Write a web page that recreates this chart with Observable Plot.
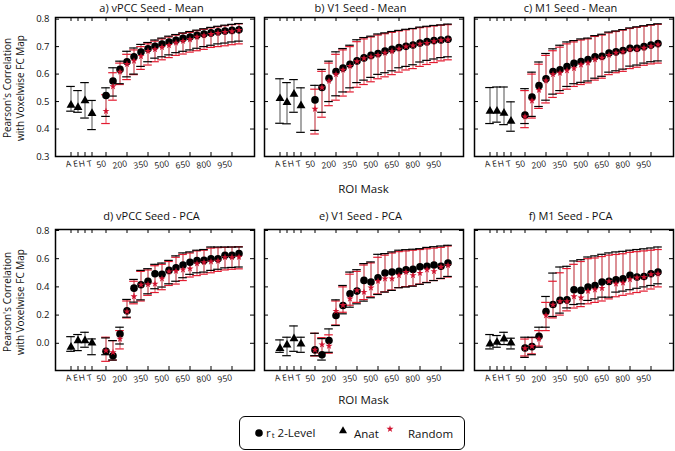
<!DOCTYPE html>
<html>
<head>
<meta charset="utf-8">
<script src="https://cdn.jsdelivr.net/npm/d3@7"></script>
<script src="https://cdn.jsdelivr.net/npm/@observablehq/plot@0.6"></script>
<style>
  html, body { margin: 0; padding: 0; background: #fff; }
  #root { position: relative; width: 675px; height: 451px; overflow: hidden; font-family: "Open Sans", sans-serif; color: #111; }
  .abs { position: absolute; }
  .title { font-size: 11px; white-space: nowrap; transform: translateX(-50%); line-height: 13px; }
  .ylab { font-size: 10px; line-height: 13px; white-space: nowrap; text-align: center; transform: translate(-50%, -50%) rotate(-90deg); }
  .xlab { font-size: 11.5px; white-space: nowrap; transform: translate(-50%, -50%); }
  .legend { border: 1.5px solid #000; border-radius: 6px; box-sizing: border-box; }
  .leg-t { font-size: 11.5px; white-space: nowrap; line-height: 14px; }
</style>
</head>
<body>
<div id="root"></div>
<script>
// ---------------- data ----------------
const anatCats = ["A", "E", "H", "T"];
const sizes = ["50","100","150","200","250","300","350","400","450","500","550","600","650","700","750","800","850","900","950","1000"];
const xTickLabels = ["A", "E", "H", "T", "50", "200", "350", "500", "650", "800", "950"];
const yTicksMean = [0.3, 0.4, 0.5, 0.6, 0.7, 0.8];
const yTicksPCA = [0.0, 0.2, 0.4, 0.6, 0.8];
const titles = ["a) vPCC Seed - Mean", "b) V1 Seed - Mean", "c) M1 Seed - Mean", "d) vPCC Seed - PCA", "e) V1 Seed - PCA", "f) M1 Seed - PCA"];

// a) vPCC Mean
const aAnat = [0.487, 0.479, 0.503, 0.457];
const aAnatLo = [0.465, 0.461, 0.440, 0.398];
const aAnatHi = [0.555, 0.540, 0.569, 0.504];
const aLev = [0.522,0.575,0.617,0.645,0.663,0.680,0.692,0.701,0.709,0.717,0.723,0.730,0.735,0.741,0.746,0.750,0.754,0.757,0.759,0.761];
const aLevHi = [0.550,0.623,0.647,0.683,0.695,0.708,0.715,0.724,0.731,0.738,0.744,0.750,0.755,0.760,0.765,0.770,0.774,0.778,0.781,0.784];
const aLevLo = [0.446,0.520,0.565,0.590,0.600,0.628,0.645,0.658,0.663,0.670,0.678,0.683,0.688,0.694,0.700,0.705,0.710,0.713,0.717,0.720];
const aRnd = [0.465,0.555,0.608,0.636,0.648,0.665,0.684,0.690,0.698,0.705,0.714,0.720,0.726,0.735,0.740,0.745,0.749,0.753,0.755,0.760];
const aRndHi = [0.525,0.605,0.640,0.672,0.688,0.700,0.710,0.720,0.728,0.735,0.742,0.748,0.752,0.758,0.763,0.768,0.772,0.776,0.780,0.783];
const aRndLo = [0.420,0.505,0.562,0.580,0.598,0.617,0.633,0.645,0.652,0.660,0.668,0.673,0.680,0.685,0.690,0.697,0.700,0.703,0.707,0.710];

// b) V1 Mean
const bAnat = [0.511, 0.497, 0.527, 0.485];
const bAnatLo = [0.421, 0.419, 0.461, 0.388];
const bAnatHi = [0.583, 0.569, 0.580, 0.550];
const bLev = [0.506,0.551,0.585,0.609,0.622,0.636,0.648,0.659,0.668,0.675,0.684,0.690,0.697,0.701,0.706,0.713,0.718,0.722,0.724,0.727];
const bLevHi = [0.559,0.617,0.647,0.681,0.693,0.705,0.725,0.733,0.738,0.746,0.750,0.755,0.759,0.763,0.766,0.771,0.774,0.777,0.779,0.782];
const bLevLo = [0.395,0.461,0.500,0.521,0.535,0.550,0.569,0.578,0.588,0.599,0.605,0.612,0.623,0.628,0.634,0.644,0.650,0.655,0.660,0.663];
const bRnd = [0.473,0.551,0.575,0.599,0.615,0.629,0.646,0.657,0.663,0.669,0.677,0.683,0.692,0.700,0.704,0.710,0.713,0.719,0.723,0.725];
const bRndHi = [0.545,0.610,0.640,0.672,0.688,0.700,0.718,0.728,0.735,0.742,0.747,0.752,0.757,0.761,0.765,0.769,0.772,0.775,0.778,0.780];
const bRndLo = [0.382,0.443,0.485,0.505,0.520,0.535,0.552,0.562,0.572,0.583,0.590,0.598,0.607,0.615,0.620,0.628,0.635,0.642,0.648,0.652];

// c) M1 Mean
const cAnat = [0.465, 0.465, 0.458, 0.429];
const cAnatLo = [0.420, 0.425, 0.416, 0.392];
const cAnatHi = [0.551, 0.553, 0.553, 0.499];
const cLev = [0.451,0.516,0.558,0.583,0.609,0.616,0.627,0.639,0.646,0.653,0.663,0.665,0.677,0.681,0.686,0.694,0.694,0.700,0.706,0.711];
const cLevHi = [0.547,0.607,0.644,0.675,0.692,0.705,0.717,0.722,0.728,0.731,0.740,0.745,0.753,0.757,0.762,0.768,0.772,0.776,0.780,0.783];
const cLevLo = [0.420,0.446,0.482,0.505,0.527,0.540,0.555,0.565,0.570,0.575,0.585,0.592,0.607,0.612,0.618,0.629,0.633,0.640,0.645,0.648];
const cRnd = [0.445,0.503,0.542,0.576,0.599,0.604,0.613,0.621,0.634,0.641,0.653,0.659,0.669,0.677,0.681,0.689,0.689,0.695,0.701,0.707];
const cRndHi = [0.540,0.600,0.636,0.668,0.685,0.698,0.710,0.717,0.724,0.728,0.737,0.742,0.750,0.755,0.760,0.766,0.770,0.774,0.778,0.781];
const cRndLo = [0.405,0.440,0.475,0.495,0.515,0.530,0.545,0.555,0.562,0.568,0.578,0.585,0.598,0.605,0.610,0.620,0.625,0.632,0.637,0.640];

// d) vPCC PCA
const dAnat = [-0.028, 0.019, 0.019, 0.002];
const dAnatLo = [-0.057, -0.052, -0.028, -0.081];
const dAnatHi = [0.047, 0.062, 0.078, 0.031];
const dLev = [-0.057,-0.088,0.066,0.230,0.391,0.415,0.439,0.493,0.489,0.517,0.536,0.555,0.574,0.586,0.588,0.600,0.600,0.624,0.624,0.636];
const dLevHi = [0.038,0.019,0.114,0.311,0.453,0.517,0.529,0.560,0.569,0.588,0.620,0.641,0.648,0.660,0.665,0.683,0.683,0.683,0.683,0.683];
const dLevLo = [-0.081,-0.119,-0.005,0.185,0.292,0.308,0.351,0.387,0.399,0.422,0.440,0.465,0.489,0.500,0.505,0.517,0.525,0.535,0.538,0.541];
const dRnd = [-0.052,-0.064,0.031,0.225,0.332,0.415,0.418,0.422,0.458,0.508,0.512,0.522,0.529,0.565,0.574,0.579,0.584,0.610,0.610,0.612];
const dRndHi = [0.043,0.019,0.090,0.300,0.440,0.510,0.520,0.550,0.560,0.580,0.610,0.630,0.640,0.655,0.660,0.675,0.678,0.680,0.682,0.685];
const dRndLo = [-0.128,-0.119,-0.040,0.180,0.280,0.300,0.340,0.360,0.380,0.410,0.420,0.445,0.470,0.480,0.490,0.500,0.510,0.520,0.525,0.528];

// e) V1 PCA
const eAnat = [-0.036, -0.012, 0.033, -0.005];
const eAnatLo = [-0.064, -0.088, -0.057, -0.064];
const eAnatHi = [0.024, 0.043, 0.123, 0.043];
const eLev = [-0.047,-0.081,0.019,0.197,0.268,0.351,0.370,0.446,0.434,0.465,0.498,0.505,0.510,0.522,0.524,0.543,0.546,0.555,0.546,0.569];
const eLevHi = [0.071,0.033,0.102,0.308,0.410,0.505,0.522,0.565,0.577,0.631,0.636,0.648,0.660,0.664,0.667,0.671,0.680,0.685,0.690,0.695];
const eLevLo = [-0.088,-0.119,-0.064,0.126,0.209,0.256,0.280,0.299,0.323,0.346,0.363,0.375,0.394,0.399,0.405,0.418,0.430,0.445,0.460,0.474];
const eRnd = [-0.047,-0.009,-0.019,0.228,0.270,0.316,0.375,0.363,0.394,0.441,0.458,0.458,0.482,0.505,0.482,0.498,0.522,0.510,0.541,0.553];
const eRndHi = [0.071,0.040,0.060,0.300,0.400,0.490,0.510,0.555,0.570,0.610,0.625,0.640,0.650,0.655,0.660,0.665,0.670,0.675,0.680,0.690];
const eRndLo = [-0.090,-0.070,-0.070,0.130,0.220,0.270,0.290,0.310,0.330,0.350,0.365,0.378,0.395,0.402,0.408,0.420,0.432,0.445,0.458,0.470];

// f) M1 PCA
const fAnat = [-0.005, 0.007, 0.031, 0.002];
const fAnatLo = [-0.040, -0.028, -0.009, -0.040];
const fAnatHi = [0.062, 0.055, 0.078, 0.036];
const fLev = [-0.033,-0.024,0.050,0.225,0.275,0.304,0.308,0.380,0.375,0.399,0.410,0.434,0.439,0.451,0.458,0.482,0.470,0.474,0.493,0.505];
const fLevHi = [0.043,0.043,0.114,0.332,0.498,0.541,0.546,0.584,0.593,0.612,0.620,0.631,0.641,0.648,0.652,0.660,0.665,0.670,0.676,0.683];
const fLevLo = [-0.100,-0.081,-0.028,0.114,0.190,0.214,0.251,0.275,0.280,0.304,0.315,0.327,0.327,0.363,0.370,0.380,0.390,0.400,0.410,0.422];
const fRnd = [-0.036,-0.021,0.031,0.197,0.273,0.297,0.297,0.332,0.323,0.370,0.380,0.391,0.439,0.422,0.429,0.453,0.465,0.470,0.489,0.493];
const fRndHi = [0.030,0.040,0.090,0.290,0.440,0.500,0.530,0.560,0.580,0.600,0.605,0.615,0.625,0.630,0.635,0.645,0.650,0.655,0.660,0.665];
const fRndLo = [-0.090,-0.075,-0.020,0.090,0.180,0.200,0.230,0.250,0.260,0.280,0.290,0.300,0.315,0.330,0.340,0.350,0.360,0.370,0.385,0.400];

// ---------------- layout / style ----------------
const BLACK = "#000";
const GREY = "#8a8a8a";
const RED = "#d0122f";
const RED_CAP = "#e31b30";
const PINK = "#ee8890";

const xDomain = [...anatCats, " ", ...sizes];
const FW = 199;
const ML = 30, MR = 3, MT = 4, MB = 30;

const panels = [
  {anat: aAnat, anatLo: aAnatLo, anatHi: aAnatHi, lev: aLev, levLo: aLevLo, levHi: aLevHi, rnd: aRnd, rndLo: aRndLo, rndHi: aRndHi},
  {anat: bAnat, anatLo: bAnatLo, anatHi: bAnatHi, lev: bLev, levLo: bLevLo, levHi: bLevHi, rnd: bRnd, rndLo: bRndLo, rndHi: bRndHi},
  {anat: cAnat, anatLo: cAnatLo, anatHi: cAnatHi, lev: cLev, levLo: cLevLo, levHi: cLevHi, rnd: cRnd, rndLo: cRndLo, rndHi: cRndHi},
  {anat: dAnat, anatLo: dAnatLo, anatHi: dAnatHi, lev: dLev, levLo: dLevLo, levHi: dLevHi, rnd: dRnd, rndLo: dRndLo, rndHi: dRndHi},
  {anat: eAnat, anatLo: eAnatLo, anatHi: eAnatHi, lev: eLev, levLo: eLevLo, levHi: eLevHi, rnd: eRnd, rndLo: eRndLo, rndHi: eRndHi},
  {anat: fAnat, anatLo: fAnatLo, anatHi: fAnatHi, lev: fLev, levLo: fLevLo, levHi: fLevHi, rnd: fRnd, rndLo: fRndLo, rndHi: fRndHi}
];
const frameLefts = [55, 264, 474];
const rows = [
  {top: 17, h: 139, domain: [0.3, 0.806], ticks: yTicksMean, titleTop: 1, roiY: 188, ylabY: 88},
  {top: 229, h: 141, domain: [-0.193, 0.807], ticks: yTicksPCA, titleTop: 209, roiY: 399, ylabY: 302}
];

const root = document.getElementById("root");

function makePanel(p, row, col) {
  const H = row.h;
  const anatRows = anatCats.map((c, i) => ({x: c, y: p.anat[i], lo: p.anatLo[i], hi: p.anatHi[i]}));
  const levRows = sizes.map((c, i) => ({x: c, y: p.lev[i], lo: p.levLo[i], hi: p.levHi[i]}));
  const rndRows = sizes.map((c, i) => ({x: c, y: p.rnd[i], lo: p.rndLo[i], hi: p.rndHi[i]}));
  const capOpt = {insetLeft: -0.8, insetRight: -0.8, strokeWidth: 1.2};
  const marks = [
    Plot.ruleX(anatRows, {x: "x", y1: "lo", y2: "hi", stroke: GREY, strokeWidth: 1.5}),
    Plot.ruleX(levRows, {x: "x", y1: "lo", y2: "hi", stroke: GREY, strokeWidth: 1.5}),
    Plot.ruleX(rndRows, {x: "x", y1: "lo", y2: "hi", stroke: PINK, strokeWidth: 1.5}),
    Plot.tickY(rndRows, {x: "x", y: "lo", stroke: RED_CAP, ...capOpt}),
    Plot.tickY(rndRows, {x: "x", y: "hi", stroke: RED_CAP, ...capOpt}),
    Plot.tickY(levRows, {x: "x", y: "lo", stroke: BLACK, ...capOpt}),
    Plot.tickY(levRows, {x: "x", y: "hi", stroke: BLACK, ...capOpt}),
    Plot.tickY(anatRows, {x: "x", y: "lo", stroke: BLACK, ...capOpt}),
    Plot.tickY(anatRows, {x: "x", y: "hi", stroke: BLACK, ...capOpt}),
    Plot.dot(anatRows, {x: "x", y: "y", symbol: "triangle", fill: BLACK, r: 3.3}),
    Plot.dot(levRows, {x: "x", y: "y", symbol: "circle", fill: BLACK, r: 3.8}),
    Plot.dot(rndRows, {x: "x", y: "y", symbol: "star", fill: RED, r: 2.2}),
    Plot.frame({stroke: BLACK, strokeWidth: 1.5}),
    Plot.ruleY(row.ticks, {insetRight: FW - 4, stroke: BLACK}),
    Plot.ruleY(row.ticks, {insetLeft: FW - 4, stroke: BLACK}),
    Plot.ruleX(xTickLabels, {insetTop: H - 4, stroke: BLACK}),
    Plot.ruleX(xTickLabels, {insetBottom: H - 4, stroke: BLACK}),
    Plot.axisX({ticks: xTickLabels, tickSize: 0, tickPadding: 7, tickRotate: -10, fontSize: 8.5, label: null})
  ];
  const withY = col === 0;
  if (withY) {
    marks.push(Plot.axisY({ticks: row.ticks, tickSize: 0, tickPadding: 6, tickFormat: d3.format(".1f"), fontSize: 9.5, label: null}));
  }
  const svg = Plot.plot({
    width: FW + ML + MR,
    height: H + MT + MB,
    marginLeft: ML, marginRight: MR, marginTop: MT, marginBottom: MB,
    style: {fontFamily: "'Open Sans', sans-serif", background: "transparent", overflow: "visible", color: "#111"},
    x: {type: "band", domain: xDomain, paddingInner: 0, paddingOuter: 0.5, align: 0.5},
    y: withY ? {domain: row.domain} : {domain: row.domain, axis: null},
    marks
  });
  svg.classList.add("abs");
  svg.style.left = (frameLefts[col] - ML) + "px";
  svg.style.top = (row.top - MT) + "px";
  root.appendChild(svg);
}

panels.forEach((p, i) => {
  const r = Math.floor(i / 3), c = i % 3;
  const row = rows[r];
  makePanel(p, row, c);
  const t = document.createElement("div");
  t.className = "abs title";
  t.textContent = titles[i];
  t.style.left = (frameLefts[c] + FW / 2 - 3) + "px";
  t.style.top = row.titleTop + "px";
  root.appendChild(t);
});

rows.forEach(row => {
  const roi = document.createElement("div");
  roi.className = "abs xlab";
  roi.textContent = "ROI Mask";
  roi.style.left = (frameLefts[1] + FW / 2) + "px";
  roi.style.top = row.roiY + "px";
  root.appendChild(roi);
  const yl = document.createElement("div");
  yl.className = "abs ylab";
  yl.innerHTML = "Pearson's Correlation<br>with Voxelwise FC Map";
  yl.style.left = "14px";
  yl.style.top = row.ylabY + "px";
  root.appendChild(yl);
});

// ---------------- legend ----------------
const leg = document.createElement("div");
leg.className = "abs legend";
leg.style.left = "239px"; leg.style.top = "416px"; leg.style.width = "226px"; leg.style.height = "34px";
root.appendChild(leg);

function legSymbol(type, r, fill, cx, cy) {
  const ns = "http://www.w3.org/2000/svg";
  const s = document.createElementNS(ns, "svg");
  s.setAttribute("width", 16); s.setAttribute("height", 16);
  s.setAttribute("class", "abs");
  s.style.left = (cx - 8) + "px"; s.style.top = (cy - 8) + "px";
  const path = document.createElementNS(ns, "path");
  path.setAttribute("d", d3.symbol(type, Math.PI * r * r)());
  path.setAttribute("transform", "translate(8,8)");
  path.setAttribute("fill", fill);
  s.appendChild(path);
  root.appendChild(s);
}
function legText(html, x, cy) {
  const d = document.createElement("div");
  d.className = "abs leg-t";
  d.innerHTML = html;
  d.style.left = x + "px";
  d.style.top = (cy - 7) + "px";
  root.appendChild(d);
}
legSymbol(d3.symbolCircle, 3.8, BLACK, 259, 433);
legText('r<span style="font-size:8px;position:relative;top:1px;margin-left:1px">t</span>&nbsp;2-Level', 266, 433);
legSymbol(d3.symbolTriangle, 3.0, BLACK, 343, 431);
legText("Anat", 354, 434);
legSymbol(d3.symbolStar, 2.2, RED, 390, 429);
legText("Random", 408, 434);
</script>
</body>
</html>
